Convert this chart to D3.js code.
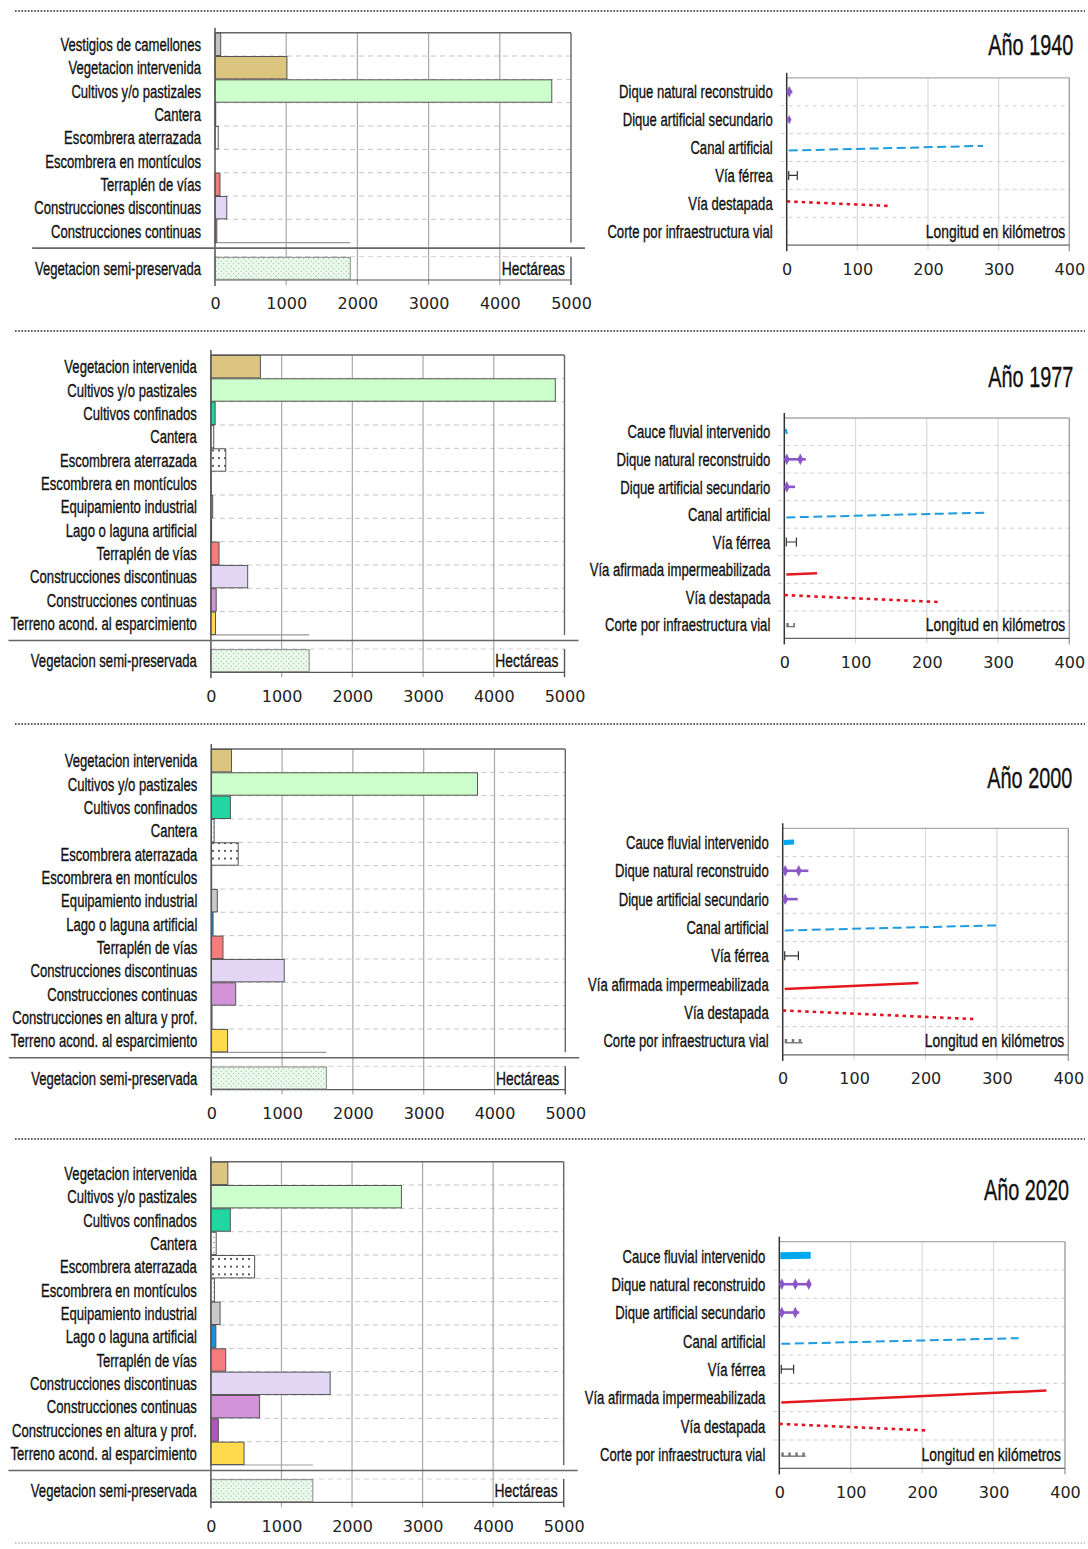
<!DOCTYPE html>
<html>
<head>
<meta charset="utf-8">
<script src="https://cdn.jsdelivr.net/npm/d3@7"></script>
<style>
  body { margin: 0; background: #fff; }
  svg { display: block; }
  .lbl { font-family: "Liberation Sans", Arial, sans-serif; fill: #111; stroke: #111; stroke-width: 0.35px; }
  .tick text { font-family: "DejaVu Sans", Verdana, sans-serif; font-size: 16px; fill: #222; }
</style>
</head>
<body>
<svg id="chart" width="1088" height="1549"></svg>
<script>
// ---------- Data ----------
const tituloAnio = ["Año 1940", "Año 1977", "Año 2000", "Año 2020"];

// Coberturas en hectáreas
const suelo1940 = ["Vestigios de camellones", "Vegetacion intervenida", "Cultivos y/o pastizales", "Cantera",
  "Escombrera aterrazada", "Escombrera en montículos", "Terraplén de vías", "Construcciones discontinuas",
  "Construcciones continuas"];
const ha1940 = [80, 1010, 4730, 10, 45, 0, 70, 165, 25];

const suelo1977 = ["Vegetacion intervenida", "Cultivos y/o pastizales", "Cultivos confinados", "Cantera",
  "Escombrera aterrazada", "Escombrera en montículos", "Equipamiento industrial", "Lago o laguna artificial",
  "Terraplén de vías", "Construcciones discontinuas", "Construcciones continuas", "Terreno acond. al esparcimiento"];
const ha1977 = [700, 4870, 60, 40, 210, 5, 25, 10, 115, 520, 75, 65];

const suelo2000 = ["Vegetacion intervenida", "Cultivos y/o pastizales", "Cultivos confinados", "Cantera",
  "Escombrera aterrazada", "Escombrera en montículos", "Equipamiento industrial", "Lago o laguna artificial",
  "Terraplén de vías", "Construcciones discontinuas", "Construcciones continuas", "Construcciones en altura y prof.",
  "Terreno acond. al esparcimiento"];
const ha2000 = [285, 3760, 270, 40, 380, 5, 85, 25, 165, 1030, 345, 10, 230];

const suelo2020 = suelo2000.slice();
const ha2020 = [240, 2700, 275, 75, 620, 50, 130, 70, 210, 1690, 690, 105, 470];

const semiNombre = "Vegetacion semi-preservada";
const haSemi = [1900, 1390, 1625, 1445];

// Obras lineales en kilómetros
const obras1940 = ["Dique natural reconstruido", "Dique artificial secundario", "Canal artificial",
  "Vía férrea", "Vía destapada", "Corte por infraestructura vial"];
const km1940 = [8, 1, 278, 15, 147, 3];

const obras1977 = ["Cauce fluvial intervenido", "Dique natural reconstruido", "Dique artificial secundario",
  "Canal artificial", "Vía férrea", "Vía afirmada impermeabilizada", "Vía destapada", "Corte por infraestructura vial"];
const km1977 = [3, 30, 15, 283, 17, 46, 218, 15];

const obras2000 = obras1977.slice();
const km2000 = [16, 36, 21, 304, 22, 190, 267, 28];

const obras2020 = obras1977.slice();
const km2020 = [44, 43, 28, 335, 20, 374, 206, 37];

const haTicks = [0, 1000, 2000, 3000, 4000, 5000];
const kmTicks = [0, 100, 200, 300, 400];

// ---------- Layout ----------
const ROW_L = 23.33;
const panels = [
  { titulo: tituloAnio[0], suelo: suelo1940, ha: ha1940, semi: haSemi[0], obras: obras1940, km: km1940,
    L: { x0: 215, x1: 571, top: 32.7 }, R: { x0: 786.7, x1: 1069.3, top: 77.8, rowH: 27.9 }, titleY: 45 },
  { titulo: tituloAnio[1], suelo: suelo1977, ha: ha1977, semi: haSemi[1], obras: obras1977, km: km1977,
    L: { x0: 210.9, x1: 564.5, top: 355 }, R: { x0: 784.3, x1: 1069.3, top: 418, rowH: 27.55 }, titleY: 377 },
  { titulo: tituloAnio[2], suelo: suelo2000, ha: ha2000, semi: haSemi[2], obras: obras2000, km: km2000,
    L: { x0: 211.3, x1: 565.3, top: 749 }, R: { x0: 782.7, x1: 1068.3, top: 828.3, rowH: 28.33 }, titleY: 778 },
  { titulo: tituloAnio[3], suelo: suelo2020, ha: ha2020, semi: haSemi[3], obras: obras2020, km: km2020,
    L: { x0: 210.9, x1: 563.7, top: 1161.7 }, R: { x0: 779.3, x1: 1065, top: 1241.7, rowH: 28.33 }, titleY: 1190 }
];
const dividers = [11, 331, 724, 1139, 1543];

// Condensed lettering: font size and horizontal squeeze
const TXT = { size: 19, sx: 0.69 };
const NOTE = { size: 19, sx: 0.73 };
const TITLE = { size: 29, sx: 0.685 };

// ---------- Styles ----------
const estiloSuelo = {
  "Vestigios de camellones": "#c3c3c3",
  "Vegetacion intervenida": "#dcc57e",
  "Cultivos y/o pastizales": "#ccffcc",
  "Cultivos confinados": "#22d6a2",
  "Cantera": "url(#pCantera)",
  "Escombrera aterrazada": "url(#pEscombrera)",
  "Escombrera en montículos": "url(#pCantera)",
  "Equipamiento industrial": "#c9c9c9",
  "Lago o laguna artificial": "#1b8fd8",
  "Terraplén de vías": "#f47c7c",
  "Construcciones discontinuas": "#e2d6f4",
  "Construcciones continuas": "#d391d8",
  "Construcciones en altura y prof.": "#b356b8",
  "Terreno acond. al esparcimiento": "#ffda4d"
};
const PURPLE = "#8b57c9";
const inclinacion = {
  "Canal artificial": { dy0: 3, slope: -0.024 },
  "Vía afirmada impermeabilizada": { dy0: 5, slope: -0.045 },
  "Vía destapada": { dy0: -2, slope: 0.045 }
};

const svg = d3.select("#chart");
const defs = svg.append("defs");

function dotPattern(id, w, h, bg, pts, r, color) {
  const p = defs.append("pattern").attr("id", id).attr("patternUnits", "userSpaceOnUse")
    .attr("width", w).attr("height", h);
  p.append("rect").attr("width", w).attr("height", h).attr("fill", bg);
  pts.forEach(([cx, cy]) => p.append("circle").attr("cx", cx).attr("cy", cy).attr("r", r).attr("fill", color));
}
dotPattern("pEscombrera", 6, 7.7, "#fff", [[3, 3.8]], 1.0, "#222");
dotPattern("pCantera", 4, 5, "#fff", [[2, 2.5]], 0.7, "#777");
dotPattern("pSemi", 5, 5, "#eef9ee", [[1.2, 1.2], [3.7, 3.7]], 0.6, "#7fc48f");

// Squeezed text placed at (x, y)
function label(g, x, y, txt, st, anchor = "end") {
  return g.append("text").attr("class", "lbl")
    .attr("transform", `translate(${x},${y}) scale(${st.sx},1)`)
    .attr("dy", "0.35em").attr("text-anchor", anchor).attr("font-size", st.size).text(txt);
}

// Dotted dividers between years
svg.append("g").selectAll("line").data(dividers).join("line")
  .attr("x1", 15).attr("x2", 1085).attr("y1", d => d).attr("y2", d => d)
  .attr("stroke", (d, i) => i === dividers.length - 1 ? "#bbb" : "#222")
  .attr("stroke-width", 1.6).attr("stroke-dasharray", "1.6,1.6");

panels.forEach(p => {
  drawLand(p);
  drawLinear(p);
  label(svg, p.R.x1 + 4, p.titleY, p.titulo, TITLE);
});

function drawLand(p) {
  const L = p.L;
  const g = svg.append("g");
  const n = p.suelo.length;
  const bottom = L.top + n * ROW_L;
  const sepY = bottom + 5.5;
  const semiTop = sepY + 8.5;
  const semiBottom = semiTop + ROW_L;

  const x = d3.scaleLinear().domain([0, 5000]).range([L.x0, L.x1]);
  const y = d3.scaleBand().domain(p.suelo).range([L.top, bottom]).paddingInner(0.04).paddingOuter(0.02);
  const ys = d3.scaleBand().domain([semiNombre]).range([semiTop, semiBottom]).paddingInner(0).paddingOuter(0.03);

  // Row separators (dashed)
  const seps = d3.range(1, n).map(i => L.top + i * ROW_L);
  g.selectAll(".rs").data(seps).join("line")
    .attr("x1", L.x0).attr("x2", L.x1).attr("y1", d => d).attr("y2", d => d)
    .attr("stroke", "#c4c4c4").attr("stroke-dasharray", "5,4");
  g.append("line").attr("x1", L.x0).attr("x2", L.x1).attr("y1", semiTop).attr("y2", semiTop)
    .attr("stroke", "#d0d0d0").attr("stroke-dasharray", "5,4");

  // Vertical gridlines
  g.selectAll(".vg").data(haTicks.slice(1, -1)).join("line")
    .attr("x1", d => x(d)).attr("x2", d => x(d)).attr("y1", L.top).attr("y2", semiBottom + 5)
    .attr("stroke", "#a8a8a8").attr("stroke-width", 1.2);

  // Frame
  g.append("line").attr("x1", L.x0).attr("x2", L.x1).attr("y1", L.top).attr("y2", L.top)
    .attr("stroke", "#666").attr("stroke-width", 1.4);
  g.append("line").attr("x1", L.x1).attr("x2", L.x1).attr("y1", L.top).attr("y2", bottom)
    .attr("stroke", "#666").attr("stroke-width", 1.4);
  g.append("line").attr("x1", L.x1).attr("x2", L.x1).attr("y1", semiTop).attr("y2", semiBottom + 5)
    .attr("stroke", "#555").attr("stroke-width", 1.4);
  g.append("line").attr("x1", L.x0).attr("x2", L.x1).attr("y1", semiBottom).attr("y2", semiBottom)
    .attr("stroke", "#555").attr("stroke-width", 1.2);
  g.append("line").attr("x1", L.x0).attr("x2", x(p.semi)).attr("y1", bottom).attr("y2", bottom)
    .attr("stroke", "#999").attr("stroke-width", 1.2);

  // Bars
  g.selectAll(".bar").data(p.suelo.map((c, i) => ({ c, v: p.ha[i] })).filter(d => d.v > 0)).join("rect")
    .attr("x", L.x0).attr("y", d => y(d.c)).attr("height", y.bandwidth())
    .attr("width", d => x(d.v) - L.x0)
    .attr("fill", d => estiloSuelo[d.c]).attr("stroke", "#555").attr("stroke-width", 1);
  g.append("rect").attr("x", L.x0).attr("y", ys(semiNombre)).attr("height", ys.bandwidth())
    .attr("width", x(p.semi) - L.x0).attr("fill", "url(#pSemi)").attr("stroke", "#888").attr("stroke-width", 1);

  // Zero axis
  g.append("line").attr("x1", L.x0).attr("x2", L.x0).attr("y1", L.top - 5).attr("y2", semiBottom + 6)
    .attr("stroke", "#555").attr("stroke-width", 1.5);

  // Category labels
  let minX = L.x0;
  p.suelo.forEach(c => {
    const t = label(g, L.x0 - 14, y(c) + y.bandwidth() / 2, c, TXT);
    minX = Math.min(minX, t.node().getBoundingClientRect().x);
  });
  label(g, L.x0 - 14, ys(semiNombre) + ys.bandwidth() / 2, semiNombre, TXT);
  label(g, L.x1 - 6, ys(semiNombre) + ys.bandwidth() / 2, "Hectáreas", NOTE);

  // Separator between groups
  g.append("line").attr("x1", minX - 2).attr("x2", L.x1 + 14).attr("y1", sepY).attr("y2", sepY)
    .attr("stroke", "#666").attr("stroke-width", 1.6);

  // Axis labels
  const ax = g.append("g").attr("transform", `translate(0,${semiBottom})`)
    .call(d3.axisBottom(x).tickValues(haTicks).tickSize(0).tickPadding(18).tickFormat(d3.format("d")));
  ax.select(".domain").remove();
}

function drawLinear(p) {
  const R = p.R;
  const g = svg.append("g");
  const n = p.obras.length;
  const bottom = R.top + n * R.rowH;
  const x = d3.scaleLinear().domain([0, 400]).range([R.x0, R.x1]);
  const y = d3.scaleBand().domain(p.obras).range([R.top, bottom]);

  // Gridlines
  g.selectAll(".vg").data(kmTicks.slice(1, -1)).join("line")
    .attr("x1", d => x(d)).attr("x2", d => x(d)).attr("y1", R.top).attr("y2", bottom + 5)
    .attr("stroke", "#dadada").attr("stroke-width", 1.2);
  const seps = d3.range(1, n).map(i => R.top + i * R.rowH);
  g.selectAll(".rs").data(seps).join("line")
    .attr("x1", R.x0 - 6).attr("x2", R.x1).attr("y1", d => d).attr("y2", d => d)
    .attr("stroke", "#cfcfcf").attr("stroke-dasharray", "4,4");

  // Frame
  g.append("line").attr("x1", R.x0).attr("x2", R.x1).attr("y1", R.top).attr("y2", R.top)
    .attr("stroke", "#aaa").attr("stroke-width", 1.3);
  g.append("line").attr("x1", R.x1).attr("x2", R.x1).attr("y1", R.top).attr("y2", bottom + 6)
    .attr("stroke", "#999").attr("stroke-width", 1.3);
  g.append("line").attr("x1", R.x0).attr("x2", R.x1).attr("y1", bottom).attr("y2", bottom)
    .attr("stroke", "#666").attr("stroke-width", 1.2);
  g.append("line").attr("x1", R.x0).attr("x2", R.x0).attr("y1", R.top - 5).attr("y2", bottom + 6)
    .attr("stroke", "#333").attr("stroke-width", 1.5);

  const line = d3.line();
  p.obras.forEach((c, i) => {
    const v = p.km[i];
    const cy = y(c) + y.bandwidth() / 2;
    const xs = x(0), xe = x(v);
    if (c === "Cauce fluvial intervenido") {
      g.append("line").attr("x1", xs + 1).attr("x2", Math.max(xe, xs + 3)).attr("y1", cy).attr("y2", cy - 0.5)
        .attr("stroke", "#00a9ee").attr("stroke-width", v > 30 ? 7 : 5);
    } else if (c.startsWith("Dique")) {
      g.append("line").attr("x1", xs + 1).attr("x2", Math.max(xe, xs + 3)).attr("y1", cy).attr("y2", cy)
        .attr("stroke", PURPLE).attr("stroke-width", 2.6);
      const marks = [];
      for (let m = xs + 2.5; m <= xe - 1 || marks.length === 0; m += 13.5) marks.push(m);
      g.selectAll(null).data(marks).join("path")
        .attr("transform", d => `translate(${d},${cy}) scale(1,1.15)`)
        .attr("d", d3.symbol(d3.symbolDiamond).size(v > 5 ? 30 : 18)).attr("fill", PURPLE);
    } else if (c === "Vía férrea") {
      g.append("path").attr("d", `M${xs + 2},${cy - 4.5}V${cy + 4.5}M${xs + 2},${cy}H${xe}M${xe},${cy - 4.5}V${cy + 4.5}`)
        .attr("fill", "none").attr("stroke", "#333").attr("stroke-width", 1.2);
    } else if (c === "Corte por infraestructura vial") {
      g.append("line").attr("x1", xs + 2).attr("x2", xe).attr("y1", cy + 2).attr("y2", cy + 2)
        .attr("stroke", "#777").attr("stroke-width", 1.4);
      g.append("line").attr("x1", xs + 2).attr("x2", xe).attr("y1", cy).attr("y2", cy)
        .attr("stroke", "#777").attr("stroke-width", 3.5).attr("stroke-dasharray", "2.5,4.5");
    } else {
      const t = inclinacion[c];
      const x0 = c === "Vía destapada" ? xs : xs + 2;
      const pts = [[x0, cy + t.dy0], [xe, cy + t.dy0 + t.slope * (xe - x0)]];
      const s = g.append("path").attr("d", line(pts)).attr("fill", "none");
      if (c === "Canal artificial") s.attr("stroke", "#1f9be0").attr("stroke-width", 2).attr("stroke-dasharray", "9,4.5");
      else if (c === "Vía afirmada impermeabilizada") s.attr("stroke", "#e3191f").attr("stroke-width", 2.5);
      else s.attr("stroke", "#e0141f").attr("stroke-width", 2.6).attr("stroke-dasharray", "3.5,4");
    }
  });

  // Labels
  p.obras.forEach(c => label(g, R.x0 - 14, y(c) + y.bandwidth() / 2, c, TXT));
  label(g, R.x1 - 4, y(p.obras[n - 1]) + y.bandwidth() / 2, "Longitud en kilómetros", NOTE);

  const ax = g.append("g").attr("transform", `translate(0,${bottom})`)
    .call(d3.axisBottom(x).tickValues(kmTicks).tickSize(0).tickPadding(18).tickFormat(d3.format("d")));
  ax.select(".domain").remove();
}
</script>
</body>
</html>
